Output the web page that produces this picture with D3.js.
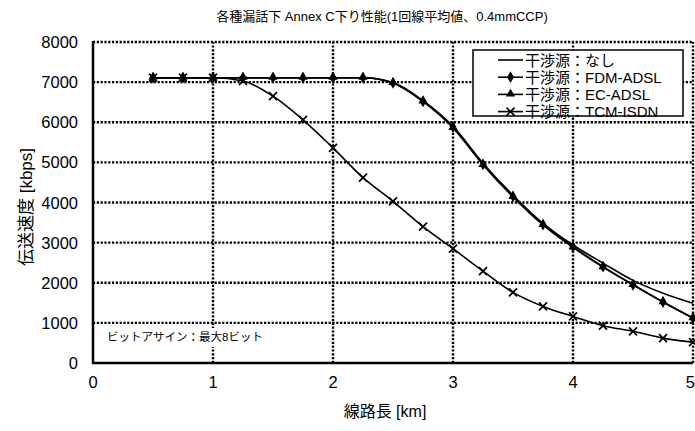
<!DOCTYPE html>
<html>
<head>
<meta charset="utf-8">
<script src="https://cdn.jsdelivr.net/npm/d3@7"></script>
<style>
  body { margin: 0; background: #fff; }
  svg text { font-family: "Liberation Sans", Arial, "Noto Sans CJK JP", sans-serif; fill: #000; }
</style>
</head>
<body>
<script>
'use strict';

// line length [km]
const lengths = [0.5, 0.75, 1, 1.25, 1.5, 1.75, 2, 2.25, 2.5, 2.75, 3, 3.25, 3.5, 3.75, 4, 4.25, 4.5, 4.75, 5];

// rate [kbps] per interference source
const noneRates = [7110, 7110, 7110, 7110, 7110, 7110, 7110, 7110, 6990, 6540, 5900, 4980, 4180, 3480, 2940, 2490, 2060, 1740, 1490];
const fdmRates  = [7110, 7110, 7110, 7110, 7110, 7110, 7110, 7110, 6980, 6520, 5880, 4950, 4150, 3450, 2900, 2400, 1950, 1520, 1120];
const ecRates   = [7110, 7110, 7110, 7110, 7110, 7110, 7110, 7110, 6980, 6520, 5860, 4940, 4140, 3440, 2880, 2390, 1950, 1520, 1120];
const tcmRates  = [7110, 7110, 7110, 7030, 6650, 6060, 5360, 4620, 4030, 3400, 2850, 2290, 1760, 1410, 1160, 930, 790, 620, 520];

const seriesNames = ["干渉源：なし", "干渉源：FDM-ADSL", "干渉源：EC-ADSL", "干渉源：TCM-ISDN"];
const seriesMarks = ["none", "diamond", "triangle", "cross"];
const xTicks = [0, 1, 2, 3, 4, 5];
const yTicks = [0, 1000, 2000, 3000, 4000, 5000, 6000, 7000, 8000];

const width = 695, height = 431;

const svg = d3.select('body').append('svg')
  .attr('width', width)
  .attr('height', height);

const x = d3.scaleLinear().domain([0, 5]).range([93, 693]);
const y = d3.scaleLinear().domain([0, 8000]).range([363, 42]);

// title
svg.append('text')
  .attr('x', 382).attr('y', 21)
  .attr('text-anchor', 'middle')
  .style('font-size', '13px')
  .text('各種漏話下 Annex C下り性能(1回線平均値、0.4mmCCP)');

// dotted grid
const grid = svg.append('g')
  .attr('stroke', '#000')
  .attr('stroke-width', 2.4)
  .attr('stroke-dasharray', '2.2,1.6');
grid.selectAll('.hg').data(yTicks.filter(d => d > 0)).enter()
  .append('line')
  .attr('x1', x(0)).attr('x2', x(5))
  .attr('y1', d => y(d)).attr('y2', d => y(d));
grid.selectAll('.vg').data(xTicks.filter(d => d > 0)).enter()
  .append('line')
  .attr('x1', d => x(d)).attr('x2', d => x(d))
  .attr('y1', y(0)).attr('y2', y(8000));

// solid left and bottom axes
svg.append('line')
  .attr('x1', x(0)).attr('x2', x(0)).attr('y1', y(8000) - 1).attr('y2', y(0) + 1)
  .attr('stroke', '#000').attr('stroke-width', 2.5);
svg.append('line')
  .attr('x1', x(0) - 1).attr('x2', x(5)).attr('y1', y(0)).attr('y2', y(0))
  .attr('stroke', '#000').attr('stroke-width', 2.5);

// tick labels
svg.selectAll('.yl').data(yTicks).enter()
  .append('text')
  .attr('x', 78).attr('y', d => y(d) + 6)
  .attr('text-anchor', 'end')
  .style('font-size', '16.5px')
  .text(d => d);
svg.selectAll('.xl').data(xTicks).enter()
  .append('text')
  .attr('x', d => d === 5 ? 695 : x(d))
  .attr('y', 388)
  .attr('text-anchor', d => d === 5 ? 'end' : 'middle')
  .style('font-size', '16.5px')
  .text(d => d);

// axis titles
svg.append('text')
  .attr('x', 385).attr('y', 417)
  .attr('text-anchor', 'middle')
  .style('font-size', '16px')
  .text('線路長 [km]');
svg.append('text')
  .attr('transform', 'translate(32, 207)rotate(-90)')
  .attr('text-anchor', 'middle')
  .style('font-size', '17px')
  .text('伝送速度 [kbps]');

// annotation on a white box (hides the grid behind it)
svg.append('rect')
  .attr('x', 105).attr('y', 328)
  .attr('width', 162).attr('height', 19)
  .attr('fill', '#fff');
svg.append('text')
  .attr('x', 107).attr('y', 341)
  .style('font-size', '11.5px')
  .text('ビットアサイン：最大8ビット');

// marker shapes
function drawMark(g, type, cx, cy) {
  if (type === 'diamond') {
    g.append('path')
      .attr('d', d3.symbol(d3.symbolDiamond, 40)())
      .attr('transform', `translate(${cx},${cy})`)
      .attr('fill', '#000');
  } else if (type === 'triangle') {
    g.append('path')
      .attr('d', d3.symbol(d3.symbolTriangle, 36)())
      .attr('transform', `translate(${cx},${cy - 0.5})`)
      .attr('fill', '#000');
  } else if (type === 'cross') {
    g.append('path')
      .attr('d', 'M-4,-4L4,4M-4,4L4,-4')
      .attr('transform', `translate(${cx},${cy})`)
      .attr('stroke', '#000').attr('stroke-width', 1.7)
      .attr('fill', 'none');
  }
}

const allRates = [noneRates, fdmRates, ecRates, tcmRates];
const line = d3.line()
  .x((d, i) => x(lengths[i]))
  .y(d => y(d))
  .curve(d3.curveMonotoneX);

allRates.forEach((rates, k) => {
  const g = svg.append('g');
  g.append('path')
    .datum(rates)
    .attr('d', line)
    .attr('fill', 'none')
    .attr('stroke', '#000')
    .attr('stroke-width', 1.6);
  rates.forEach((v, i) => drawMark(g, seriesMarks[k], x(lengths[i]), y(v)));
});

// legend
const lg = svg.append('g');
lg.append('rect')
  .attr('x', 473).attr('y', 50)
  .attr('width', 210).attr('height', 66)
  .attr('fill', '#fff');
seriesNames.forEach((name, k) => {
  const ly = 60 + k * 17.2;
  lg.append('line')
    .attr('x1', 498).attr('x2', 523)
    .attr('y1', ly).attr('y2', ly)
    .attr('stroke', '#000').attr('stroke-width', 1.6);
  drawMark(lg, seriesMarks[k], 510.5, ly);
  lg.append('text')
    .attr('x', 525).attr('y', ly + 5.5)
    .style('font-size', '15px')
    .text(name);
});
lg.append('rect')
  .attr('x', 473).attr('y', 50)
  .attr('width', 210).attr('height', 66)
  .attr('fill', 'none')
  .attr('stroke', '#000').attr('stroke-width', 1.5);
</script>
</body>
</html>
